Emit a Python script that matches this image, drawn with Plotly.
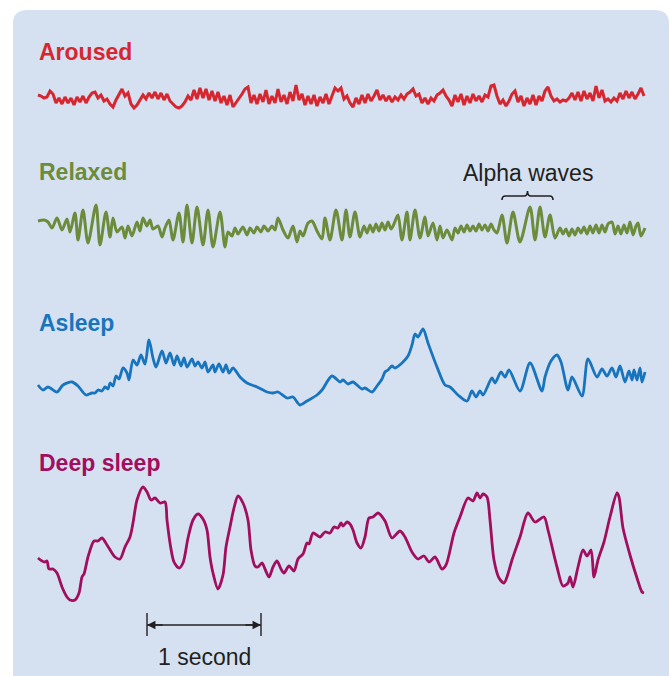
import numpy as np
import plotly.graph_objects as go

W, H = 670, 676
SAMPLE_RATE = 114  # samples per second

LABELS = ["Aroused", "Relaxed", "Asleep", "Deep sleep"]
COLORS = ["#d6262f", "#6d8c3b", "#1875bd", "#a20d5e"]

# Aroused: evenly sampled, every 3 samples starting at sample 38 (amplitude, up positive)
AROUSED_START = 38
AROUSED_STEP = 3
AROUSED = [
    3, 2, 0, 1, 7, 4,
    -5, 0, -6, 1, -5, 0, -7, 1, -4, 2, -5, 1,
    5, 6, 0, 3, -3, -1, -6,
    -9, -2, 3, 9, 2, 5, -6, -10, -7,
    -2, 3, -1, 5, 0, 6, -1, 5, -2, 4, -3,
    -6, -9, -10, -8, -4,
    2, -2, 8, -1, 10, 0, 9, -2, 7, -3, 6,
    -5, 2, -7, 3, -9,
    -5, -1, 4, 9, 11,
    -5, 3, -6, 4, -4, 8, -6, 2, -5, 9, -4, 3,
    -6, 6, -3, 13,
    -2, 4, -7, 2, -6, 3, -8, 1, -5, 4, -6, 2,
    10, 7, 10, -1, 2, -5, -9,
    0, -6, 3, -5, 4, -3, 2, 8, -2,
    3, -3, 2, -4, 1, -2, 3, -1, 4, 6,
    9, 2, 4, -5, 0, -6, 0, -3, 3,
    5, 8, 2, -2,
    -8, 3, -4, 4, -7, 2, -5, 4, -3, 2, -4, 3, 1,
    12, 13, 2,
    -6, -2, -8, -3, 4, 7,
    -4, 2, -8, 0, -6, 3, -7, 2, -3,
    7, 11, 2,
    -3, -1, -4, -2, -3, 0,
    5, -2, 6, -3, 7, -1, 5, -3,
    12, 0, 8, -3,
    -1, -4, 0, -3,
    5, -1, 7, 0, 6, -1, 4,
    10, 2,
]

# Relaxed: turning points (sample, amplitude)
RELAXED_T = [
    38, 44, 48, 52, 57, 62, 67, 70, 75, 78, 83, 88, 96, 100, 106, 110, 113, 117,
    122, 125, 128, 132, 137, 140, 143, 147, 150, 153, 158, 162, 165, 169, 173,
    179, 183, 187, 192, 197, 203, 208, 213, 220, 225, 228, 232, 235, 238, 243,
    247, 250, 254, 257, 261, 264, 268, 272, 275, 278, 283, 288, 293, 297, 300,
    303, 308, 312, 317, 322, 325, 330, 336, 342, 346, 350, 355, 360, 364, 367,
    370, 373, 376, 379, 382, 385, 388, 391, 394, 398, 402, 407, 410, 415, 420,
    425, 428, 433, 437, 440, 443, 447, 452, 455, 458, 461, 464, 467, 470, 473,
    476, 479, 482, 485, 488, 491, 494, 497, 502, 507, 513, 520, 530, 535, 540,
    545, 550, 555, 560, 563, 566, 569, 572, 575, 578, 581, 584, 587, 590, 593,
    596, 599, 602, 605, 608, 612, 615, 618, 621, 624, 627, 630, 633, 636, 638,
    641, 645,
]
RELAXED_V = [
    5, 6, 4, -2, 8, -4, 7, -6, 13, -14, 16, -17, 21, -19, 14, -11, 8, -6,
    -1, -12, 0, -10, 4, -5, 8, 0, 6, -3, 0, -11, -2, 6, -14,
    13, -16, 21, -17, 19, -19, 16, -21, 14, -21, -6, -10, -2, -8, -1,
    -9, -2, -7, -1, -6, 0, -5, 0, -4, 8, -4, -12, 0, -16, -5,
    -10, 3, 5, -5, -13, 8, -14, 16, -14, 16, -11, 14, -11, 0, -7,
    1, -6, 2, -5, 3, -4, 4, -3, 2, 11, -14, 14, -14, 16, -12,
    9, -10, 3, -14, 0, -12, -4, -14, -2, -7, 0, -6, 1, -5, 0,
    -5, 2, -4, 1, -5, 2, -4, -7, 11, -17, 14, -16, 19, -14, 19,
    -11, 11, -12, -2, -8, -3, -10, -3, -9, -2, -7, -1, -8, 0, -7,
    1, -7, 1, -6, 2, 4, -8, 0, -8, 1, -7, 4, -9, 0, 3,
    -10, -2,
]

# Asleep: turning points (sample, amplitude)
ASLEEP_T = [
    38, 43, 48, 57, 63, 72, 78, 86, 92, 95, 98, 102, 105, 108, 110, 113, 116,
    119, 123, 127, 129, 133, 137, 141, 145, 149, 153, 156, 162, 166, 170, 174,
    177, 181, 184, 187, 192, 195, 198, 202, 205, 208, 213, 215, 219, 223, 226,
    229, 233, 240, 247, 257, 267, 273, 278, 287, 293, 300, 307, 317, 322, 332,
    340, 343, 348, 353, 362, 365, 372, 377, 382, 385, 388, 392, 395, 402, 408,
    412, 415, 418, 423, 428, 437, 445, 450, 458, 467, 472, 476, 480, 483, 492,
    495, 501, 505, 509, 520, 530, 542, 545, 551, 557, 561, 568, 572, 582, 588,
    597, 602, 607, 612, 616, 620, 625, 629, 632, 634, 637, 640, 642, 645,
]
ASLEEP_V = [
    -5, -10, -7, -12, -5, -2, -6, -15, -13, -13, -10, -11, -7, -9, -3, -6, 4,
    1, 12, 7, 0, 20, 15, 25, 16, 40, 22, 13, 29, 17, 27, 15,
    24, 14, 22, 13, 21, 14, 18, 12, 18, 8, 15, 8, 16, 8, 15,
    7, 12, 3, -3, -7, -12, -13, -12, -18, -17, -25, -21, -15, -10, 4,
    -2, 0, -4, -2, -9, -8, -12, -6, 1, 8, 10, 14, 12, 17, 24,
    35, 46, 43, 51, 37, 13, -5, -7, -15, -21, -11, -17, -11, -15, 2,
    -3, 8, 3, 10, -11, 17, -11, 3, 19, 25, 18, -10, 3, -16, 21,
    3, 11, 4, 12, 3, 14, -2, 9, 0, 10, 0, 12, -2, 8,
]

# Deep sleep: turning points (sample, amplitude)
DEEP_T = [
    38, 42, 45, 47, 49, 53, 57, 62, 67, 70, 75, 79, 82, 84, 88, 94, 98, 102,
    107, 112, 115, 120, 125, 130, 133, 137, 143, 147, 151, 155, 160, 165, 167,
    170, 174, 179, 183, 188, 193, 198, 203, 207, 210, 213, 218, 223, 226, 230,
    234, 238, 243, 248, 251, 255, 258, 262, 265, 269, 273, 277, 281, 284, 289,
    294, 298, 303, 307, 309, 313, 320, 325, 330, 334, 338, 341, 343, 347, 350,
    353, 357, 361, 365, 369, 373, 378, 385, 392, 400, 405, 412, 418, 424, 429,
    435, 442, 446, 454, 460, 468, 473, 477, 480, 483, 487, 490, 494, 499, 504,
    507, 512, 520, 528, 535, 544, 548, 557, 563, 568, 570, 573, 578, 583, 587,
    591, 594, 598, 604, 610, 617, 619, 623, 630, 637, 642, 644,
]
DEEP_V = [
    -13, -16, -17, -16, -24, -24, -28, -42, -52, -55, -55, -48, -32, -29, -12, 4, 4, 7,
    0, -8, -12, -14, -2, 8, 22, 45, 58, 53, 45, 47, 42, 43, 25,
    2, -17, -23, -18, 7, 25, 31, 26, 15, -12, -28, -44, -30, -2, 18,
    37, 49, 42, 25, -5, -21, -22, -18, -24, -32, -22, -16, -24, -28, -21,
    -26, -14, -9, 2, 1, 12, 8, 13, 12, 18, 17, 22, 19, 23, 21,
    15, 2, -3, 8, 27, 28, 32, 24, 7, 14, 8, -7, -14, -11, -17,
    -12, -24, -20, 12, 28, 47, 44, 52, 47, 51, 48, 25, -15, -33, -38,
    -32, -15, 8, 32, 23, 28, 15, -22, -41, -38, -32, -42, -22, -5, -11,
    -5, -32, -15, 3, 28, 52, 48, 17, -10, -33, -47, -48,
]

ALPHA_WINDOW = (502, 553)  # samples covered by the "Alpha waves" brace
SCALE_START = 147          # sample where the 1-second bar begins

# Vertical placement of each trace's zero line (plot units, bottom = 0)
OFFSETS = [578, 450, 296, 131]
LABEL_Y = [52, 172, 323, 463]   # pixel rows of the labels

PANEL = "#d5e1f1"
INK = "#231f20"
FONT = "Liberation Sans, Arial"


def sec(s):
    return np.asarray(s, dtype=float) / SAMPLE_RATE


def px(x):
    return x / W


def py(y):
    return 1 - y / H


aroused_t = AROUSED_START + AROUSED_STEP * np.arange(len(AROUSED))
series = [
    (aroused_t, AROUSED, "linear", 3.0),
    (RELAXED_T, RELAXED_V, "spline", 3.0),
    (ASLEEP_T, ASLEEP_V, "spline", 2.8),
    (DEEP_T, DEEP_V, "spline", 2.8),
]

fig = go.Figure()
for (t, v, shape, lw), off, color in zip(series, OFFSETS, COLORS):
    fig.add_trace(go.Scatter(
        x=sec(t), y=np.asarray(v, dtype=float) + off, mode="lines",
        line=dict(color=color, width=lw, shape=shape, smoothing=0.8),
        hoverinfo="skip", showlegend=False,
    ))

# rounded panel background
L, T, R, B, r = 13, 10, 669, 700, 14
panel_path = (
    f"M {px(L + r)},{py(T)} L {px(R - r)},{py(T)} "
    f"Q {px(R)},{py(T)} {px(R)},{py(T + r)} L {px(R)},{py(B - r)} "
    f"Q {px(R)},{py(B)} {px(R - r)},{py(B)} L {px(L + r)},{py(B)} "
    f"Q {px(L)},{py(B)} {px(L)},{py(B - r)} L {px(L)},{py(T + r)} "
    f"Q {px(L)},{py(T)} {px(L + r)},{py(T)} Z"
)
fig.add_shape(type="path", path=panel_path, xref="paper", yref="paper",
              fillcolor=PANEL, line=dict(width=0), layer="below")

# trace labels
for lab, color, ly in zip(LABELS, COLORS, LABEL_Y):
    fig.add_annotation(
        text=f"<b>{lab}</b>", x=px(37), y=py(ly), xref="paper", yref="paper",
        xanchor="left", yanchor="middle", showarrow=False,
        font=dict(family=FONT, size=23, color=color),
    )

# alpha waves brace
a, b = sec(ALPHA_WINDOW[0]), sec(ALPHA_WINDOW[1])
m = (a + b) / 2
d = 0.03
yb = H - 196
brace = (
    f"M {a},{yb - 4} Q {a},{yb} {a + d},{yb} L {m - d},{yb} "
    f"Q {m},{yb} {m},{yb + 5} Q {m},{yb} {m + d},{yb} "
    f"L {b - d},{yb} Q {b},{yb} {b},{yb - 4}"
)
fig.add_shape(type="path", path=brace, xref="x", yref="y",
              line=dict(color=INK, width=1.6))
fig.add_annotation(
    text="Alpha waves", x=m, y=H - 173, xref="x", yref="y", showarrow=False,
    font=dict(family=FONT, size=23, color=INK),
)

# 1-second scale bar
s0, s1 = sec(SCALE_START), sec(SCALE_START + SAMPLE_RATE)
ybar = H - 625
for xe in (s0, s1):
    fig.add_shape(type="line", x0=xe, x1=xe, y0=ybar - 11, y1=ybar + 12,
                  xref="x", yref="y", line=dict(color=INK, width=1.4))
fig.add_shape(type="line", x0=s0, x1=s1, y0=ybar, y1=ybar,
              xref="x", yref="y", line=dict(color=INK, width=1.3))
for head, tail in ((s0, s0 + 0.15), (s1, s1 - 0.15)):
    fig.add_annotation(
        x=head, y=ybar, ax=tail, ay=ybar, xref="x", yref="y",
        axref="x", ayref="y", showarrow=True, arrowhead=2, arrowsize=1.3,
        arrowwidth=1.3, arrowcolor=INK, text="",
    )
fig.add_annotation(
    text="1 second", x=(s0 + s1) / 2, y=H - 657, xref="x", yref="y",
    showarrow=False, font=dict(family=FONT, size=23, color=INK),
)

fig.update_xaxes(range=[0, W / SAMPLE_RATE], visible=False, fixedrange=True)
fig.update_yaxes(range=[0, H], visible=False, fixedrange=True)
fig.update_layout(
    width=W, height=H, margin=dict(l=0, r=0, t=0, b=0),
    paper_bgcolor="white", plot_bgcolor="rgba(0,0,0,0)",
)

fig.write_html("out.html", config={"displayModeBar": False},
               post_script="document.body.style.margin='0';")
